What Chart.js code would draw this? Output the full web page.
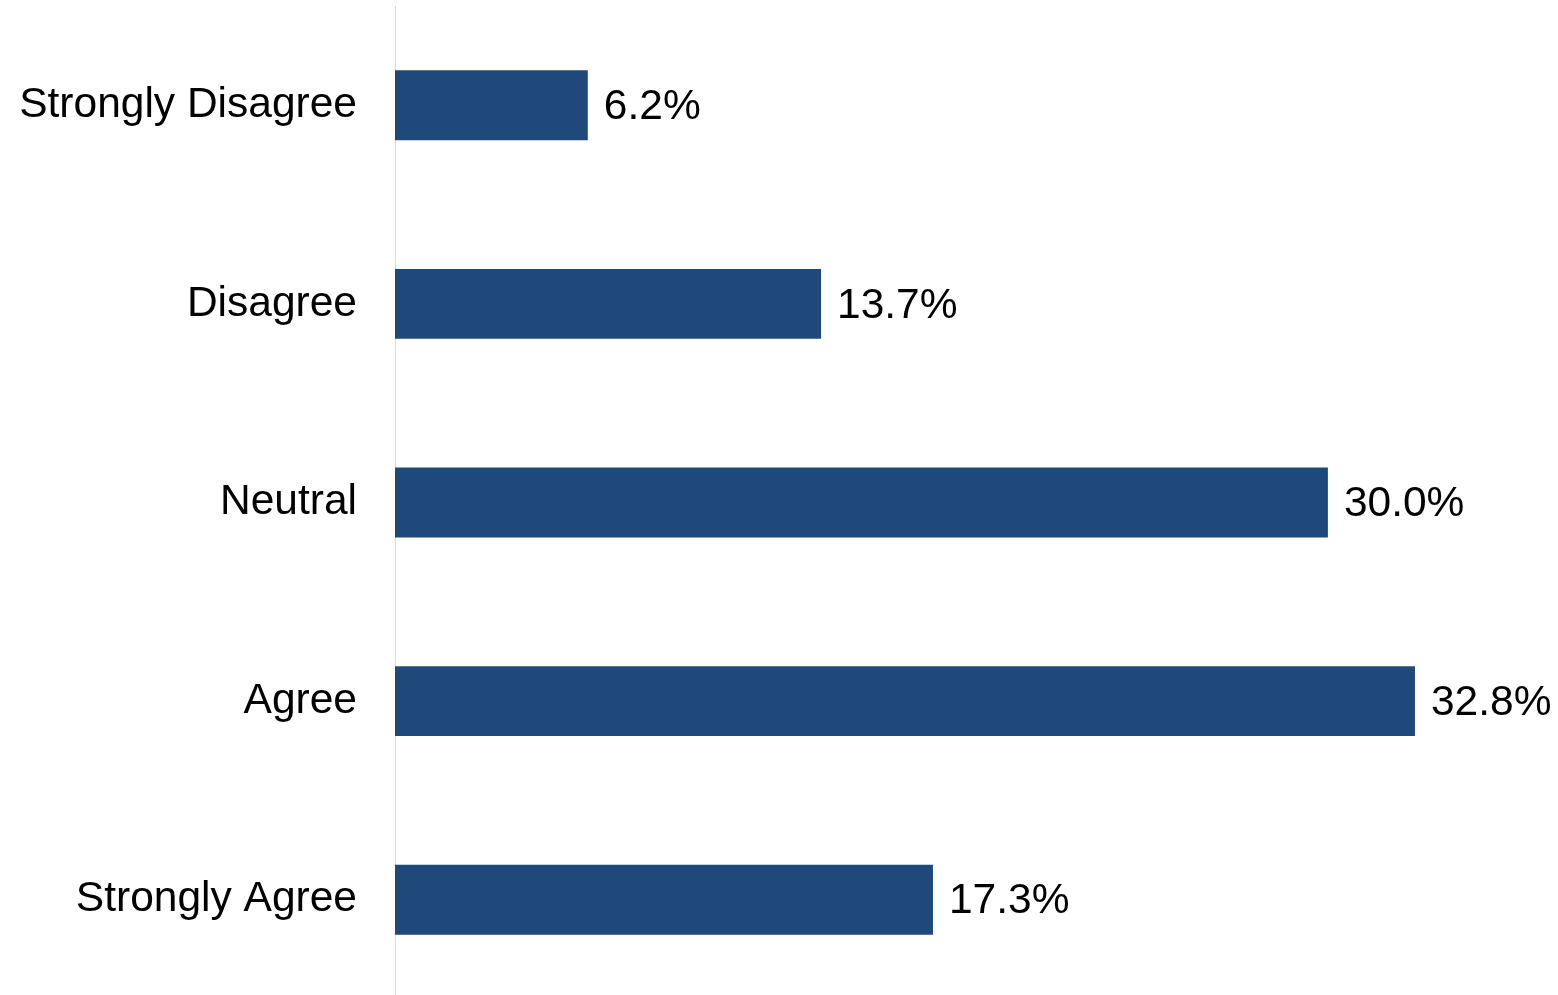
<!DOCTYPE html>
<html>
<head>
<meta charset="utf-8">
<style>
  html, body { margin: 0; padding: 0; background: #ffffff; overflow: hidden; }
  #wrap { position: relative; width: 1558px; height: 1000px; }
</style>
<script src="https://cdn.jsdelivr.net/npm/chart.js@4.4.1/dist/chart.umd.min.js"></script>
</head>
<body>
<div id="wrap"><canvas id="chart" width="1558" height="1000"></canvas></div>
<script>
// Survey response categories and their shares (percent)
const categories = ['Strongly Disagree', 'Disagree', 'Neutral', 'Agree', 'Strongly Agree'];
const shares = [6.2, 13.7, 30.0, 32.8, 17.3];

const barColor = '#1f497b';
const fontFamily = '"Liberation Sans", Arial, sans-serif';

// Writes each bar's value just past its end
const valueLabels = {
  id: 'valueLabels',
  afterDatasetsDraw(chart) {
    const ctx = chart.ctx;
    const meta = chart.getDatasetMeta(0);
    ctx.save();
    ctx.font = '42.5px ' + fontFamily;
    ctx.fillStyle = '#000000';
    ctx.textAlign = 'left';
    ctx.textBaseline = 'middle';
    meta.data.forEach((bar, i) => {
      ctx.fillText(shares[i].toFixed(1) + '%', bar.x + 16, bar.y + 2);
    });
    ctx.restore();
  }
};

new Chart(document.getElementById('chart'), {
  type: 'bar',
  data: {
    labels: categories,
    datasets: [{
      data: shares,
      backgroundColor: barColor,
      borderWidth: 0,
      barPercentage: 0.352,
      categoryPercentage: 1.0
    }]
  },
  options: {
    indexAxis: 'y',
    responsive: false,
    maintainAspectRatio: false,
    animation: false,
    layout: { padding: { top: 6, bottom: 1, left: 0, right: 0 } },
    plugins: {
      legend: { display: false },
      tooltip: { enabled: false }
    },
    scales: {
      x: {
        min: 0,
        max: 37.4,
        display: false,
        grid: { display: false }
      },
      y: {
        afterFit(scale) {
          scale.width = 395;
          scale.paddingTop = 0;
          scale.paddingBottom = 0;
        },
        grid: { display: false, drawTicks: false },
        border: { display: true, color: '#d9d9d9', width: 1 },
        ticks: {
          padding: 38,
          color: '#000000',
          font: { family: fontFamily, size: 42.5 }
        }
      }
    }
  },
  plugins: [valueLabels]
});
</script>
</body>
</html>
